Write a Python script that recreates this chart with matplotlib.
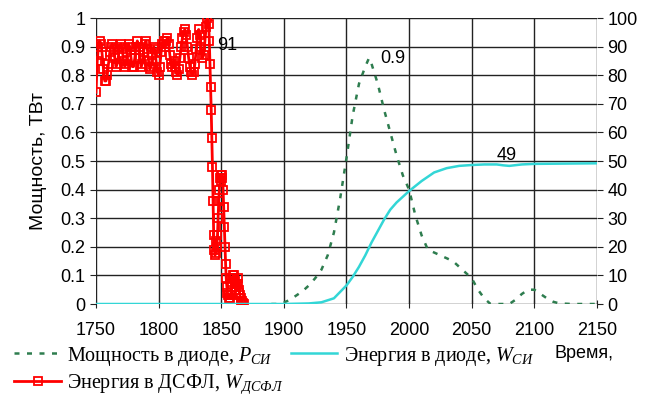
import matplotlib
matplotlib.use('Agg')
import matplotlib.pyplot as plt
import numpy as np

plt.rcParams['font.family'] = ['Liberation Sans', 'DejaVu Sans']
plt.rcParams['mathtext.fontset'] = 'custom'
plt.rcParams['mathtext.it'] = 'Liberation Serif:italic'
plt.rcParams['mathtext.rm'] = 'Liberation Serif'

# Energy in DSFL (red, left scale)
red_years = list(range(1750, 1840)) + list(np.arange(1840, 1868.5, 0.5))
red_vals = [0.74, 0.85, 0.90, 0.92, 0.91, 0.87, 0.82, 0.78, 0.78, 0.80,
            0.84, 0.88, 0.90, 0.91, 0.89, 0.86, 0.83, 0.84, 0.87, 0.90,
            0.91, 0.89, 0.85, 0.83, 0.84, 0.88, 0.91, 0.90, 0.86, 0.83,
            0.83, 0.86, 0.90, 0.92, 0.90, 0.86, 0.83, 0.84, 0.88, 0.91,
            0.92, 0.89, 0.85, 0.82, 0.83, 0.87, 0.90, 0.89, 0.85, 0.81,
            0.80, 0.83, 0.88, 0.91, 0.92, 0.90, 0.92, 0.93, 0.91, 0.87,
            0.84, 0.83, 0.85, 0.83, 0.81, 0.80, 0.82, 0.86, 0.90, 0.93,
            0.95, 0.96, 0.94, 0.90, 0.86, 0.83, 0.81, 0.80, 0.81, 0.84,
            0.89, 0.93, 0.96, 0.94, 0.90, 0.86, 0.87, 0.92, 0.97, 1.00,
            0.98, 0.92, 0.84, 0.76, 0.68, 0.58, 0.48, 0.36, 0.24, 0.19,
            0.17, 0.18, 0.22, 0.20, 0.24, 0.30, 0.36, 0.40, 0.44, 0.45,
            0.43, 0.45, 0.44, 0.40, 0.34, 0.27, 0.20, 0.14, 0.09, 0.06,
            0.04, 0.03, 0.02, 0.03, 0.02, 0.03, 0.05, 0.07, 0.09, 0.10,
            0.09, 0.10, 0.08, 0.06, 0.05, 0.07, 0.09, 0.07, 0.05, 0.04,
            0.03, 0.02, 0.01, 0.01, 0.005, 0.0, 0.0]

# Power in diode (green, left scale)
green_years = [1890, 1895, 1900, 1905, 1910, 1915, 1920, 1925, 1930, 1935,
               1940, 1945, 1950, 1955, 1960, 1965, 1968, 1970, 1975, 1980,
               1985, 1990, 1995, 2000, 2005, 2010, 2015, 2020, 2025, 2030,
               2035, 2040, 2045, 2050, 2055, 2060, 2065, 2080, 2085, 2090,
               2095, 2100, 2105, 2110, 2115, 2120, 2130, 2150]
green_vals = [0.0, 0.0, 0.005, 0.015, 0.03, 0.045, 0.065, 0.09, 0.12, 0.17,
              0.25, 0.37, 0.51, 0.66, 0.77, 0.83, 0.86, 0.84, 0.77, 0.68,
              0.60, 0.52, 0.45, 0.40, 0.31, 0.24, 0.19, 0.18, 0.17, 0.16,
              0.15, 0.13, 0.11, 0.09, 0.05, 0.02, 0.0, 0.0, 0.015, 0.035,
              0.05, 0.05, 0.035, 0.02, 0.008, 0.002, 0.0, 0.0]

# Energy in diode (cyan, right scale)
cyan_years = [1750, 1900, 1920, 1930, 1940, 1950, 1955, 1960, 1965, 1970,
              1975, 1980, 1985, 1990, 1995, 2000, 2010, 2020, 2030, 2040,
              2050, 2060, 2070, 2075, 2080, 2090, 2100, 2150]
cyan_vals = [0.0, 0.0, 0.2, 0.6, 2.0, 6.5, 9.5, 13.0, 17.0, 21.5,
             25.5, 29.5, 33.0, 35.5, 37.5, 39.5, 43.0, 46.0, 47.5, 48.3,
             48.6, 48.8, 48.8, 48.5, 48.3, 48.8, 49.0, 49.2]

fig = plt.figure(figsize=(6.56, 3.96), dpi=100)
ax = fig.add_axes([0.1463, 0.2323, 0.7637, 0.7222])
ax2 = ax.twinx()

l_green, = ax.plot(green_years, green_vals, color='#2e7d4f', linewidth=1.8,
                   dashes=(2, 3), label=r'Мощность в диоде, $P_{СИ}$')
l_red, = ax.plot(red_years, red_vals, color='#ff0000', linewidth=2, marker='s',
                 markersize=6, markerfacecolor='none', markeredgewidth=1.3,
                 label=r'Энергия в ДСФЛ, $W_{ДСФЛ}$')
l_cyan, = ax2.plot(cyan_years, cyan_vals, color='#33d6d6', linewidth=1.8,
                   label=r'Энергия в диоде, $W_{СИ}$')

ax.set_xlim(1750, 2150)
ax.set_ylim(0, 1)
ax2.set_ylim(0, 100)
ax.set_xticks(np.arange(1750, 2151, 50))
ax.set_yticks(np.arange(0, 1.01, 0.1))
ax.set_yticklabels(['0', '0.1', '0.2', '0.3', '0.4', '0.5', '0.6', '0.7', '0.8', '0.9', '1'])
ax2.set_yticks(np.arange(0, 101, 10))
ax.grid(True, color='#222222', linewidth=1)
for a in (ax, ax2):
    for s in a.spines.values():
        s.set_visible(False)
ax.tick_params(axis='y', length=4, direction='out', labelsize=13, color='#222222')
ax.tick_params(axis='x', length=6, direction='inout', labelsize=13, pad=10, color='#222222')
ax2.tick_params(axis='y', length=4, direction='out', labelsize=13, color='#222222')
ax.set_ylabel('Мощность, ТВт', fontsize=14, labelpad=10)

ax.text(1846.5, 0.905, '91', fontsize=13, va='center')
ax.text(1977, 0.86, '0.9', fontsize=13, va='center')
ax2.text(2070, 52, '49', fontsize=13, va='center')

fig.legend(handles=[l_green, l_red, l_cyan], ncol=2, loc='upper left',
           bbox_to_anchor=(0.022, 0.13), frameon=False, numpoints=1,
           prop={'family': 'Liberation Serif', 'size': 14.5},
           handlelength=2.3, handletextpad=0.3, columnspacing=0.4,
           labelspacing=0.25, borderpad=0, borderaxespad=0)
fig.text(0.846, 0.097, 'Время,', fontsize=13)

fig.savefig('out.png', dpi=100)
